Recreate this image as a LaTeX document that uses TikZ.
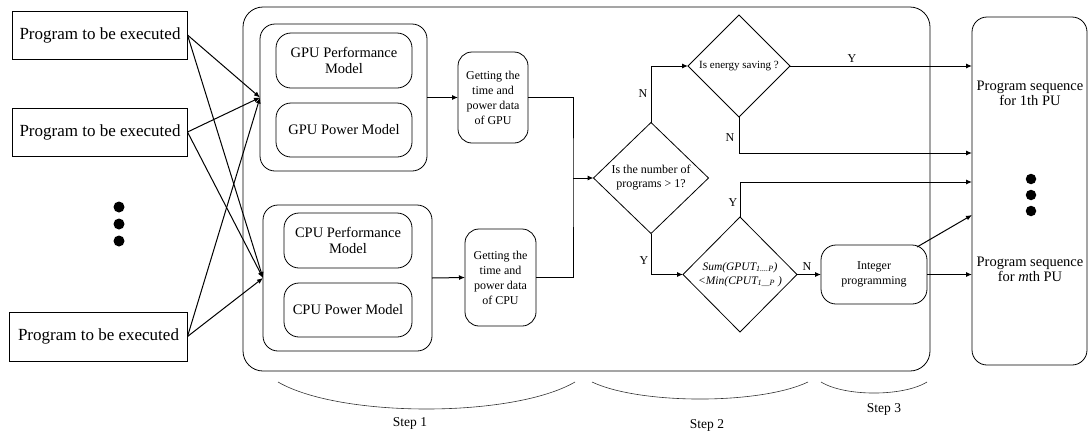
\documentclass[tikz,border=0pt]{standalone}
\usepackage{fontspec}
\setmainfont{Liberation Serif}
\usetikzlibrary{shapes.geometric,arrows.meta}
\begin{document}
\begin{tikzpicture}[x=1pt,y=-1pt,
  every node/.style={inner sep=0pt,outer sep=0pt},
  prog/.style={draw,line width=0.8pt,rectangle,minimum width=175pt,minimum height=48pt,font=\fontsize{17}{19}\selectfont},
  rbox/.style={draw,line width=0.8pt,rounded corners=15pt,align=center},
  model/.style={rbox,font=\fontsize{14.5}{16.5}\selectfont},
  getb/.style={rbox,rounded corners=14pt,font=\fontsize{12}{15}\selectfont},
  dia/.style={draw,line width=0.8pt,diamond,shape aspect=1},
  dtext/.style={align=center},
  arr/.style={line width=1pt,-{Latex[length=6pt,width=5pt]}},
  ln/.style={line width=1pt},
  yn/.style={font=\fontsize{12}{14}\selectfont},
  brace/.style={line width=0.6pt,draw=black!80},
  steplab/.style={font=\fontsize{13.5}{15}\selectfont},
  dot/.style={circle,fill=black,minimum size=11pt}
]
\useasboundingbox (0,0) rectangle (1089,437);

% inputs
\node[prog] (p1) at (100,35) {Program to be executed};
\node[prog] (p2) at (100,132) {Program to be executed};
\node[prog,minimum width=178pt,minimum height=49pt] (p3) at (98.5,336.5) {Program to be executed};
\node[dot] (ld1) at (119,207) {};
\node[dot] (ld2) at (119,224) {};
\node[dot] (ld3) at (119,241) {};

% outer container
\node[draw,line width=0.8pt,rounded corners=20pt,minimum width=687pt,minimum height=364pt] (outer) at (586.5,189) {};

% GPU group
\node[rbox,minimum width=167pt,minimum height=147pt] (gpug) at (343.5,97.5) {};
\node[model,minimum width=136pt,minimum height=55pt] (gperf) at (344,60.5) {GPU Performance\\Model};
\node[model,minimum width=136pt,minimum height=54pt] (gpow) at (344,130) {GPU Power Model};

% CPU group
\node[rbox,minimum width=169pt,minimum height=146pt] (cpug) at (347.5,278) {};
\node[model,minimum width=128pt,minimum height=55pt] (cperf) at (348,240.5) {CPU Performance\\Model};
\node[model,minimum width=128pt,minimum height=54pt] (cpow) at (348,310) {CPU Power Model};

% getting data
\node[getb,minimum width=70pt,minimum height=91pt] (gget) at (493,97.5) {Getting the\\time and\\power data\\of GPU};
\node[getb,minimum width=71pt,minimum height=97pt] (cget) at (500.5,277.5) {Getting the\\time and\\power data\\of CPU};

% decisions
\node[dia,minimum width=115pt,minimum height=111pt,label={[dtext,font=\fontsize{12}{14}\selectfont]center:Is the number of\\programs > 1?}] (d1) at (651,178) {};
\node[dia,minimum width=102pt,minimum height=102pt,label={[dtext,font=\fontsize{11}{13}\selectfont]center:Is energy saving ?}] (d2) at (739,66) {};
\node[dia,minimum width=114pt,minimum height=115pt,label={[dtext,font=\fontsize{11.5}{14}\selectfont\itshape]center:Sum(GPUT\textsubscript{1....P})\\<Min(CPUT\textsubscript{1\_\_P} )}] (d3) at (740,274.5) {};

% integer programming
\node[rbox,minimum width=106pt,minimum height=59pt,font=\fontsize{12}{15}\selectfont] (ip) at (874,274.5) {Integer\\programming};

% output
\node[rbox,minimum width=115pt,minimum height=348pt] (out) at (1029.5,191) {};
\node[align=center,font=\fontsize{14.5}{15}\selectfont] (o1) at (1030,93) {Program sequence\\for 1th PU};
\node[align=center,font=\fontsize{14.5}{15}\selectfont] (o2) at (1030,269) {Program sequence\\for \textit{m}th PU};
\node[dot,minimum size=10.5pt] (rd1) at (1031,179) {};
\node[dot,minimum size=10.5pt] (rd2) at (1031,195) {};
\node[dot,minimum size=10.5pt] (rd3) at (1031,211) {};

% input connectors
\foreach \p in {p1,p2,p3} {
  \draw[arr] (\p.east) -- (gpug.west);
  \draw[arr] (\p.east) -- (cpug.west);
}

% step 1 internal
\draw[arr] (gpug.east) -- (gget.west);
\draw[arr] (cpug.east) -- (cget.west);
\coordinate (j) at (573,178);
\draw[ln] (gget.east) -| (j) |- (cget.east);
\draw[arr] (j) -- (d1.west);

% decisions
\draw[arr] (d1.north) |- (d2.west);
\node[yn] (nN1) at (643,94) {N};
\coordinate (t1) at (972,66);
\draw[arr] (d2.east) -- (t1);
\node[yn] (nY1) at (852,59) {Y};
\coordinate (t2) at (972,153);
\draw[arr] (d2.south) |- (t2);
\node[yn] (nN2) at (730,138) {N};
\draw[arr] (d1.south) |- (d3.west);
\node[yn] (nY2) at (644,261) {Y};
\coordinate (t3) at (972,182);
\draw[arr] (d3.north) |- (t3);
\node[yn] (nY3) at (733,203) {Y};
\draw[arr] (d3.east) -- (ip.west);
\node[yn] (nN3) at (807,267) {N};
\coordinate (t4) at (972,274.5);
\draw[arr] (ip.east) -- (t4);
\coordinate (t5) at (972,215);
\draw[arr] ([shift={(-10pt,-2pt)}]ip.north east) -- (t5);

% braces
\draw[brace] (278,382) .. controls (340,418) and (513,418) .. (575,382);
\draw[brace] (592,382) .. controls (640,404.7) and (760,404.7) .. (808,382);
\draw[brace] (821,382) .. controls (845,396.7) and (903,396.7) .. (927,382);
\node[steplab] (s1) at (410,423) {Step 1};
\node[steplab] (s2) at (707,425) {Step 2};
\node[steplab] (s3) at (884,409) {Step 3};
\end{tikzpicture}
\end{document}
